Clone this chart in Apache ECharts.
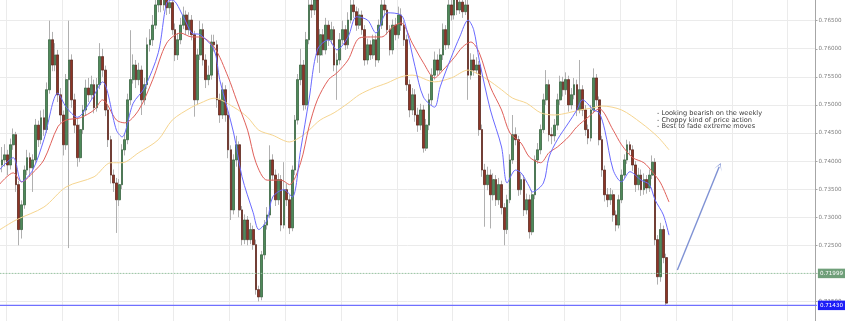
<!DOCTYPE html>
<html><head><meta charset="utf-8">
<script src="https://cdn.jsdelivr.net/npm/echarts@6/dist/echarts.min.js"></script>
<style>html,body{margin:0;padding:0;background:#fff}#c{width:845px;height:321px}</style>
</head><body><div id="c"></div>
<script>
// padding slots before first candle, total category slots
const PAD = 18;
const SLOTS = 310;
const firstOpen = 0.7393;
// closes (each candle opens at the previous close)
const closes = [
0.7402,0.7411,0.7393,0.7429,0.7447,0.7358,0.7278,0.7322,0.7384,0.7406,
0.7388,0.7402,0.7464,0.7438,0.7477,0.7456,0.7527,0.7616,0.7571,0.7589,
0.7518,0.7482,0.7429,0.7545,0.7580,0.7509,0.7464,0.7406,0.7456,0.7491,
0.7530,0.7518,0.7536,0.7495,0.7536,0.7586,0.7562,0.7491,0.7438,0.7375,
0.7361,0.7331,0.7358,0.7420,0.7438,0.7509,0.7545,0.7571,0.7545,0.7562,
0.7509,0.7536,0.7607,0.7616,0.7642,0.7678,0.7692,0.7678,0.7690,0.7673,
0.7682,0.7634,0.7589,0.7616,0.7642,0.7660,0.7634,0.7651,0.7625,0.7509,
0.7589,0.7634,0.7580,0.7545,0.7553,0.7612,0.7607,0.7509,0.7482,0.7527,
0.7482,0.7420,0.7313,0.7402,0.7429,0.7313,0.7260,0.7295,0.7260,0.7278,
0.7251,0.7171,0.7158,0.7233,0.7286,0.7304,0.7402,0.7375,0.7331,0.7367,
0.7286,0.7349,0.7331,0.7281,0.7384,0.7473,0.7545,0.7571,0.7500,0.7616,
0.7678,0.7669,0.7687,0.7589,0.7625,0.7598,0.7642,0.7616,0.7634,0.7571,
0.7580,0.7616,0.7634,0.7607,0.7651,0.7678,0.7666,0.7642,0.7660,0.7634,
0.7580,0.7607,0.7589,0.7616,0.7580,0.7642,0.7678,0.7669,0.7634,0.7598,
0.7642,0.7625,0.7660,0.7642,0.7616,0.7536,0.7491,0.7518,0.7482,0.7464,
0.7491,0.7423,0.7464,0.7509,0.7553,0.7580,0.7562,0.7589,0.7634,0.7607,
0.7678,0.7660,0.7687,0.7669,0.7683,0.7666,0.7678,0.7553,0.7580,0.7562,
0.7571,0.7456,0.7384,0.7358,0.7375,0.7340,0.7367,0.7331,0.7358,0.7317,
0.7278,0.7331,0.7402,0.7447,0.7438,0.7349,0.7367,0.7313,0.7331,0.7274,
0.7340,0.7402,0.7420,0.7456,0.7509,0.7536,0.7447,0.7445,0.7464,0.7509,
0.7541,0.7527,0.7545,0.7500,0.7518,0.7536,0.7491,0.7527,0.7491,0.7456,
0.7441,0.7491,0.7548,0.7509,0.7438,0.7384,0.7340,0.7331,0.7340,0.7304,
0.7286,0.7331,0.7375,0.7402,0.7429,0.7420,0.7393,0.7358,0.7375,0.7349,
0.7367,0.7352,0.7375,0.7398,0.7260,0.7194,0.7278,0.7228,0.7147];
const highs = [
0.7425,0.7430,0.7420,0.7440,0.7458,0.7452,0.7365,0.7330,0.7392,0.7420,
0.7415,0.7412,0.7475,0.7472,0.7490,0.7492,0.7540,0.7650,0.7630,0.7610,
0.7598,0.7530,0.7490,0.7555,0.7650,0.7590,0.7520,0.7475,0.7465,0.7500,
0.7545,0.7548,0.7552,0.7545,0.7548,0.7610,0.7600,0.7570,0.7500,0.7445,
0.7385,0.7370,0.7368,0.7430,0.7450,0.7520,0.7633,0.7590,0.7580,0.7575,
0.7570,0.7548,0.7620,0.7635,0.7660,0.7695,0.7710,0.7705,0.7708,0.7700,
0.7700,0.7690,0.7645,0.7628,0.7655,0.7675,0.7668,0.7665,0.7660,0.7632,
0.7600,0.7650,0.7645,0.7590,0.7570,0.7625,0.7625,0.7615,0.7520,0.7540,
0.7535,0.7490,0.7428,0.7412,0.7445,0.7435,0.7320,0.7305,0.7302,0.7290,
0.7285,0.7260,0.7178,0.7240,0.7295,0.7318,0.7428,0.7412,0.7385,0.7378,
0.7375,0.7398,0.7360,0.7340,0.7392,0.7482,0.7555,0.7600,0.7580,0.7630,
0.7695,0.7695,0.7705,0.7695,0.7635,0.7635,0.7655,0.7650,0.7648,0.7640,
0.7592,0.7628,0.7650,0.7642,0.7665,0.7695,0.7690,0.7675,0.7672,0.7668,
0.7642,0.7618,0.7615,0.7625,0.7625,0.7652,0.7695,0.7690,0.7678,0.7642,
0.7652,0.7655,0.7675,0.7672,0.7650,0.7625,0.7545,0.7530,0.7528,0.7495,
0.7502,0.7500,0.7475,0.7520,0.7565,0.7595,0.7590,0.7600,0.7645,0.7642,
0.7692,0.7690,0.7705,0.7700,0.7700,0.7695,0.7700,0.7690,0.7592,0.7590,
0.7585,0.7578,0.7465,0.7395,0.7390,0.7385,0.7378,0.7375,0.7370,0.7365,
0.7325,0.7340,0.7412,0.7482,0.7460,0.7445,0.7378,0.7375,0.7342,0.7340,
0.7348,0.7410,0.7432,0.7465,0.7520,0.7562,0.7545,0.7460,0.7475,0.7520,
0.7552,0.7550,0.7558,0.7552,0.7530,0.7548,0.7545,0.7580,0.7535,0.7500,
0.7465,0.7500,0.7565,0.7555,0.7515,0.7445,0.7392,0.7352,0.7352,0.7348,
0.7312,0.7340,0.7385,0.7412,0.7438,0.7435,0.7428,0.7400,0.7388,0.7385,
0.7378,0.7375,0.7385,0.7410,0.7405,0.7268,0.7290,0.7285,0.7235];
const lows = [
0.7380,0.7390,0.7375,0.7385,0.7420,0.7345,0.7250,0.7262,0.7315,0.7375,
0.7372,0.7345,0.7395,0.7425,0.7430,0.7445,0.7450,0.7520,0.7560,0.7560,
0.7505,0.7468,0.7410,0.7420,0.7245,0.7495,0.7450,0.7390,0.7398,0.7448,
0.7482,0.7505,0.7510,0.7485,0.7488,0.7528,0.7550,0.7480,0.7425,0.7360,
0.7345,0.7272,0.7320,0.7350,0.7410,0.7430,0.7500,0.7538,0.7530,0.7535,
0.7482,0.7500,0.7528,0.7595,0.7605,0.7635,0.7665,0.7665,0.7668,0.7660,
0.7662,0.7625,0.7578,0.7580,0.7608,0.7635,0.7625,0.7625,0.7615,0.7479,
0.7500,0.7580,0.7570,0.7530,0.7535,0.7545,0.7595,0.7495,0.7468,0.7475,
0.7470,0.7405,0.7295,0.7305,0.7390,0.7300,0.7250,0.7252,0.7250,0.7252,
0.7242,0.7162,0.7150,0.7152,0.7225,0.7278,0.7298,0.7365,0.7320,0.7322,
0.7275,0.7280,0.7320,0.7270,0.7275,0.7375,0.7465,0.7535,0.7490,0.7492,
0.7608,0.7655,0.7660,0.7575,0.7557,0.7588,0.7590,0.7605,0.7608,0.7560,
0.7509,0.7572,0.7608,0.7598,0.7600,0.7645,0.7655,0.7632,0.7635,0.7625,
0.7570,0.7572,0.7580,0.7582,0.7568,0.7575,0.7635,0.7658,0.7625,0.7588,
0.7590,0.7615,0.7618,0.7632,0.7605,0.7525,0.7478,0.7482,0.7470,0.7452,
0.7455,0.7415,0.7418,0.7455,0.7500,0.7545,0.7552,0.7555,0.7580,0.7598,
0.7600,0.7650,0.7652,0.7660,0.7662,0.7655,0.7660,0.7509,0.7545,0.7552,
0.7555,0.7445,0.7372,0.7283,0.7348,0.7280,0.7330,0.7320,0.7322,0.7305,
0.7250,0.7270,0.7325,0.7395,0.7428,0.7338,0.7340,0.7302,0.7305,0.7262,
0.7268,0.7332,0.7395,0.7412,0.7450,0.7500,0.7435,0.7430,0.7435,0.7455,
0.7500,0.7515,0.7518,0.7488,0.7492,0.7510,0.7480,0.7485,0.7480,0.7445,
0.7430,0.7435,0.7485,0.7498,0.7428,0.7372,0.7328,0.7318,0.7322,0.7292,
0.7275,0.7280,0.7325,0.7368,0.7395,0.7410,0.7382,0.7345,0.7348,0.7338,
0.7340,0.7342,0.7345,0.7368,0.7250,0.7180,0.7185,0.7218,0.7143];

// moving averages: [candle index, price]
const maFast = [[-1,0.7384],[4,0.7406],[7,0.7363],[11,0.7384],[15,0.7438],[20,0.7521],[23,0.7496],[27,0.7478],[32,0.7509],[36,0.7541],[41,0.7455],[43,0.7443],[47,0.7503],[51,0.7530],[56,0.7593],[59,0.7682],[61,0.7687],[65,0.7657],[68,0.7628],[71,0.7625],[76,0.7598],[78,0.7545],[83,0.7450],[86,0.7372],[90,0.7308],[92,0.7278],[95,0.7295],[97,0.7336],[101,0.7349],[104,0.7336],[107,0.7420],[110,0.7509],[113,0.7598],[117,0.7616],[120,0.7598],[124,0.7621],[127,0.7657],[131,0.7651],[134,0.7628],[138,0.7664],[143,0.7660],[145,0.7634],[148,0.7568],[151,0.7514],[155,0.7496],[157,0.7532],[161,0.7585],[164,0.7621],[167,0.7651],[169,0.7634],[171,0.7580],[175,0.7491],[179,0.7425],[181,0.7361],[184,0.7384],[186,0.7379],[189,0.7354],[190,0.7345],[194,0.7361],[196,0.7407],[199,0.7438],[203,0.7468],[206,0.7491],[208,0.7509],[212,0.7491],[214,0.7486],[216,0.7455],[219,0.7384],[222,0.7363],[225,0.7381],[229,0.7366],[232,0.7358],[234,0.7331],[237,0.7304],[239,0.7268]];
const maMid = [[-1,0.7358],[4,0.7379],[7,0.7363],[11,0.7379],[15,0.7402],[20,0.7461],[23,0.7473],[28,0.7477],[33,0.7491],[36,0.7509],[41,0.7473],[44,0.7468],[49,0.7491],[54,0.7545],[59,0.7610],[64,0.7628],[68,0.7621],[71,0.7621],[76,0.7603],[81,0.7550],[84,0.7509],[88,0.7455],[91,0.7397],[95,0.7366],[100,0.7366],[103,0.7358],[107,0.7397],[110,0.7461],[113,0.7509],[117,0.7545],[120,0.7557],[124,0.7580],[128,0.7619],[132,0.7621],[136,0.7621],[140,0.7639],[143,0.7646],[147,0.7610],[151,0.7575],[155,0.7548],[158,0.7562],[162,0.7584],[165,0.7603],[168,0.7612],[171,0.7593],[175,0.7532],[179,0.7491],[182,0.7450],[186,0.7432],[189,0.7407],[193,0.7397],[196,0.7415],[199,0.7425],[203,0.7443],[206,0.7461],[210,0.7478],[214,0.7493],[219,0.7455],[222,0.7429],[226,0.7406],[230,0.7397],[233,0.7381],[236,0.7361],[239,0.7327]];
const maSlow = [[-1,0.7277],[5,0.7295],[15,0.7318],[23,0.7354],[33,0.7372],[39,0.7397],[43,0.7397],[49,0.7415],[56,0.7438],[61,0.7473],[68,0.7496],[71,0.7503],[76,0.7512],[83,0.7496],[88,0.7478],[92,0.7455],[97,0.7446],[103,0.7434],[107,0.7443],[110,0.7455],[114,0.7473],[119,0.7486],[124,0.7503],[128,0.7518],[133,0.7530],[138,0.7539],[143,0.7550],[147,0.7553],[155,0.7541],[161,0.7548],[167,0.7562],[169,0.7559],[174,0.7545],[179,0.7527],[183,0.7512],[188,0.7503],[193,0.7486],[198,0.7482],[203,0.7486],[207,0.7491],[211,0.7494],[215,0.7498],[222,0.7491],[229,0.7468],[235,0.7443],[239,0.7420]];

const levels = [0.71999, 0.71430];
const levelLabels = ['0.71999', '0.71430'];
const arrowFrom = [242, 0.7206];
const arrowTo = [257, 0.7390];
const notes = ['- Looking bearish on the weekly', '- Choppy kind of price action', '- Best to fade extreme moves'];

const categories = Array.from({length: SLOTS}, (_, k) => String(k));
const ohlc = closes.map((c, i) => [i === 0 ? firstOpen : closes[i - 1], c, lows[i], highs[i]]);
const wickData = categories.map((_, k) => { const i = k - PAD; return (i >= 0 && i < ohlc.length) ? ohlc[i] : '-'; });
const bodyData = categories.map((_, k) => { const i = k - PAD; if (i < 0 || i >= ohlc.length) return '-'; const d = ohlc[i]; return [d[0], d[1], Math.min(d[0], d[1]), Math.max(d[0], d[1])]; });
const shift = arr => arr.map(p => [p[0] + PAD, p[1]]);
const levelStyles = [
  {line: {color: '#98c8a2', type: [1.5, 1.5], width: 1}, bg: '#6f9f79'},
  {line: {color: '#7070ff', type: 'solid', width: 1.2}, bg: '#1e1ef7'}
];

const levelSeries = levels.map((v, k) => ({
  type: 'line', silent: true, showSymbol: false, z: 5,
  data: [[-0.5, v], [SLOTS - 0.5, v]],
  lineStyle: levelStyles[k].line,
  endLabel: {show: true, formatter: levelLabels[k], distance: 1,
    backgroundColor: levelStyles[k].bg, color: '#ffffff', fontSize: 5.6,
    padding: [2, 2, 1.5, 2], fontFamily: 'DejaVu Sans'}
}));

const chart = echarts.init(document.getElementById('c'), null, {renderer: 'canvas'});
chart.setOption({
  animation: false,
  backgroundColor: '#ffffff',
  title: {
    text: notes.join('\n'), left: 657, top: 110, padding: 0,
    textStyle: {fontSize: 6.6, lineHeight: 6.6, fontWeight: 'normal', color: '#3a3a3a', fontFamily: 'DejaVu Sans'}
  },
  grid: {left: -49.6, right: 29.5, top: -7.4, bottom: -8.5, containLabel: false, outerBoundsMode: 'none'},
  xAxis: {
    type: 'category', data: categories, boundaryGap: true,
    axisLine: {show: false}, axisTick: {show: false}, axisLabel: {show: false},
    splitLine: {show: true, interval: 19, lineStyle: {color: '#ebebeb', width: 1}}
  },
  yAxis: {
    type: 'value', position: 'right', min: 0.710, max: 0.770, interval: 0.005,
    axisLine: {show: true, lineStyle: {color: '#a6a6a6', width: 1}},
    axisTick: {show: true, length: 2, lineStyle: {color: '#a6a6a6'}},
    axisLabel: {formatter: v => v.toFixed(5), fontSize: 5.6, color: '#808080', margin: 3, fontFamily: 'DejaVu Sans'},
    splitLine: {show: true, lineStyle: {color: '#ebebeb', width: 1}}
  },
  series: [
    {
      type: 'candlestick', data: wickData, barWidth: 2.2, silent: true,
      itemStyle: {color: 'rgba(0,0,0,0)', color0: 'rgba(0,0,0,0)', borderColor: '#b0b0b0', borderColor0: '#b0b0b0', borderWidth: 1}
    },
    {
      type: 'candlestick', data: bodyData, barWidth: 2.2, silent: true,
      itemStyle: {color: '#4f8a5a', color0: '#8d3526', borderColor: '#2f5f38', borderColor0: '#541c12', borderWidth: 0.6}
    },
    {
      type: 'line', data: shift(maSlow), showSymbol: false, smooth: 0.3, silent: true,
      lineStyle: {color: '#f6d58f', width: 1}
    },
    {
      type: 'line', data: shift(maMid), showSymbol: false, smooth: 0.3, silent: true,
      lineStyle: {color: '#e0605a', width: 1}
    },
    {
      type: 'line', data: shift(maFast), showSymbol: false, smooth: 0.3, silent: true,
      lineStyle: {color: '#6a6aff', width: 1},
      markLine: {
        silent: true, symbol: ['none', 'path://M0,10L5,0L10,10L5,2Z'], symbolSize: [8, 8],
        lineStyle: {color: '#7f92d4', width: 1.4, type: 'solid'}, label: {show: false},
        data: [[{coord: [arrowFrom[0] + PAD, arrowFrom[1]]}, {coord: [arrowTo[0] + PAD, arrowTo[1]]}]]
      }
    }
  ].concat(levelSeries)
});
</script>
</body></html>
